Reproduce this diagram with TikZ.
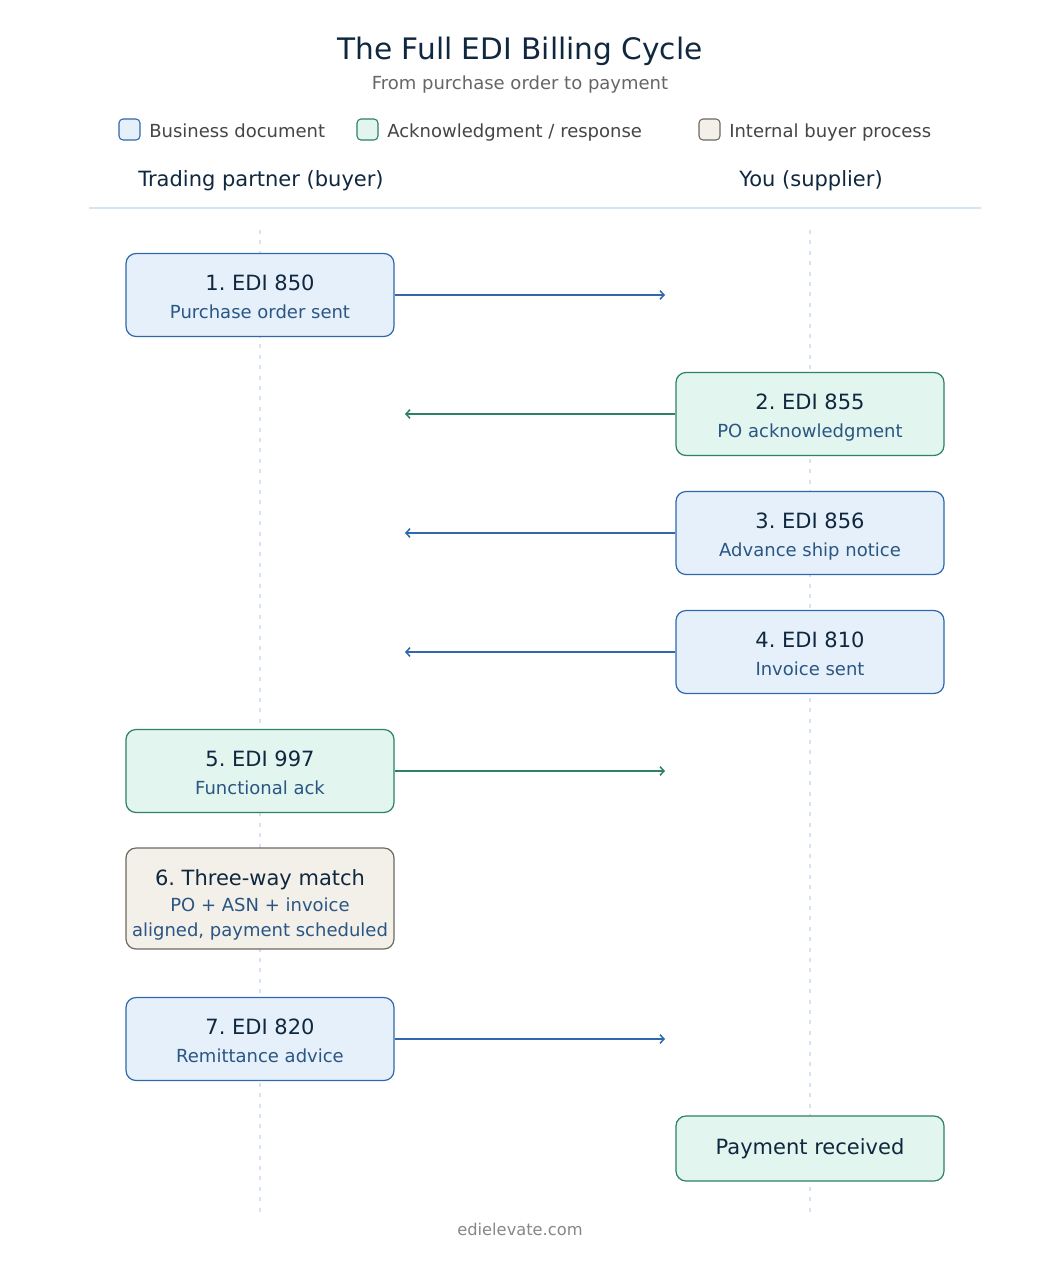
\documentclass[tikz,border=0pt]{standalone}
\usepackage{fontspec}
\setmainfont{DejaVu Sans}
\usetikzlibrary{arrows.meta}
\frenchspacing

\definecolor{navy}{HTML}{10283F}
\definecolor{subblue}{HTML}{2A5684}
\definecolor{keytext}{HTML}{454545}
\definecolor{grayline}{HTML}{D5E3F4}
\definecolor{lifeline}{HTML}{D6E3F5}
\definecolor{bizline}{HTML}{2F68AC}
\definecolor{bizfill}{HTML}{E6F0FB}
\definecolor{ackline}{HTML}{2C8262}
\definecolor{ackfill}{HTML}{E2F5EE}
\definecolor{intline}{HTML}{6E6862}
\definecolor{intfill}{HTML}{F3EFE9}

\begin{document}
\begin{tikzpicture}[x=0.75pt,y=-0.75pt,
  box/.style={draw,rounded corners=7.5pt,line width=0.9pt,inner sep=0pt,
    minimum width=201pt,minimum height=62.25pt},
  bizbox/.style={box,draw=bizline,fill=bizfill},
  ackbox/.style={box,draw=ackline,fill=ackfill},
  intbox/.style={box,draw=intline,fill=intfill},
  key/.style={draw,rounded corners=3pt,line width=0.8pt,inner sep=0pt,
    minimum size=15.75pt},
  keylabel/.style={anchor=base west,inner sep=0pt,text=keytext,
    font=\fontsize{13.5}{16}\selectfont},
  lane/.style={anchor=base,text=navy,font=\fontsize{15.75}{19}\selectfont},
  head/.style={anchor=base,text=navy,font=\fontsize{15.75}{19}\selectfont},
  sub/.style={anchor=base,text=subblue,font=\fontsize{13.5}{16}\selectfont},
  bizarrow/.style={draw=bizline,line width=1.1pt,-{Straight Barb[length=3pt,width=6.5pt]}},
  ackarrow/.style={draw=ackline,line width=1.1pt,-{Straight Barb[length=3pt,width=6.5pt]}},
]
\useasboundingbox[fill=white] (0,0) rectangle (1039,1264);

% title and legend
\node[anchor=base,text=navy,font=\fontsize{22.2}{26}\selectfont] (title) at (520,59.8)
  {The Full EDI Billing Cycle};
\node[anchor=base,text=black!60,font=\fontsize{13.5}{16}\selectfont] (subtitle) at (520,89.5)
  {From purchase order to payment};

\node[key,draw=bizline,fill=bizfill] (keybiz) at (129.5,129.5) {};
\node[keylabel] (keybiztext) at (149,137.5) {Business document};
\node[key,draw=ackline,fill=ackfill] (keyack) at (367.5,129.5) {};
\node[keylabel] (keyacktext) at (387,137.5) {Acknowledgment / response};
\node[key,draw=intline,fill=intfill] (keyint) at (709.5,129.5) {};
\node[keylabel] (keyinttext) at (729,137.5) {Internal buyer process};

% lanes
\node[lane] (buyer) at (261,186.6) {Trading partner (buyer)};
\node[lane] (supplier) at (811,186.6) {You (supplier)};
\draw[grayline,line width=0.9pt] (89,208) -- (981,208);
\draw[lifeline,line width=0.9pt,dash pattern=on 3pt off 4.8pt] (260,230) -- (260,1215);
\draw[lifeline,line width=0.9pt,dash pattern=on 3pt off 4.8pt] (810,230) -- (810,1215);

% arrow ends
\coordinate (end850) at (665,295);
\coordinate (end855) at (405,414);
\coordinate (end856) at (405,533);
\coordinate (end810) at (405,652);
\coordinate (end997) at (665,771);
\coordinate (end820) at (665,1039);

% steps
\node[bizbox] (edi850) at (260,295) {};
\node[head] (edi850a) at (260,290.5) {1. EDI 850};
\node[sub] (edi850b) at (260,318) {Purchase order sent};
\draw[bizarrow] (edi850.east) -- (end850);

\node[ackbox] (edi855) at (810,414) {};
\node[head] (edi855a) at (810,409.5) {2. EDI 855};
\node[sub] (edi855b) at (810,437) {PO acknowledgment};
\draw[ackarrow] (edi855.west) -- (end855);

\node[bizbox] (edi856) at (810,533) {};
\node[head] (edi856a) at (810,528.5) {3. EDI 856};
\node[sub] (edi856b) at (810,556) {Advance ship notice};
\draw[bizarrow] (edi856.west) -- (end856);

\node[bizbox] (edi810) at (810,652) {};
\node[head] (edi810a) at (810,647.5) {4. EDI 810};
\node[sub] (edi810b) at (810,675) {Invoice sent};
\draw[bizarrow] (edi810.west) -- (end810);

\node[ackbox] (edi997) at (260,771) {};
\node[head] (edi997a) at (260,766.5) {5. EDI 997};
\node[sub] (edi997b) at (260,794) {Functional ack};
\draw[ackarrow] (edi997.east) -- (end997);

\node[intbox,minimum height=75.75pt] (match) at (260,898.5) {};
\node[head] (matcha) at (260,885.5) {6. Three-way match};
\node[sub] (matchb) at (260,911.5) {PO + ASN + invoice};
\node[sub] (matchc) at (260,936.5) {aligned, payment scheduled};

\node[bizbox] (edi820) at (260,1039) {};
\node[head] (edi820a) at (260,1034.5) {7. EDI 820};
\node[sub] (edi820b) at (260,1062) {Remittance advice};
\draw[bizarrow] (edi820.east) -- (end820);

\node[ackbox,minimum height=48.75pt] (paid) at (810,1148.5) {};
\node[head] (paida) at (810,1154.6) {Payment received};

% footer
\node[anchor=base,text=black!47,font=\fontsize{12.2}{14}\selectfont] (footer) at (520,1235)
  {edielevate.com};
\end{tikzpicture}
\end{document}
